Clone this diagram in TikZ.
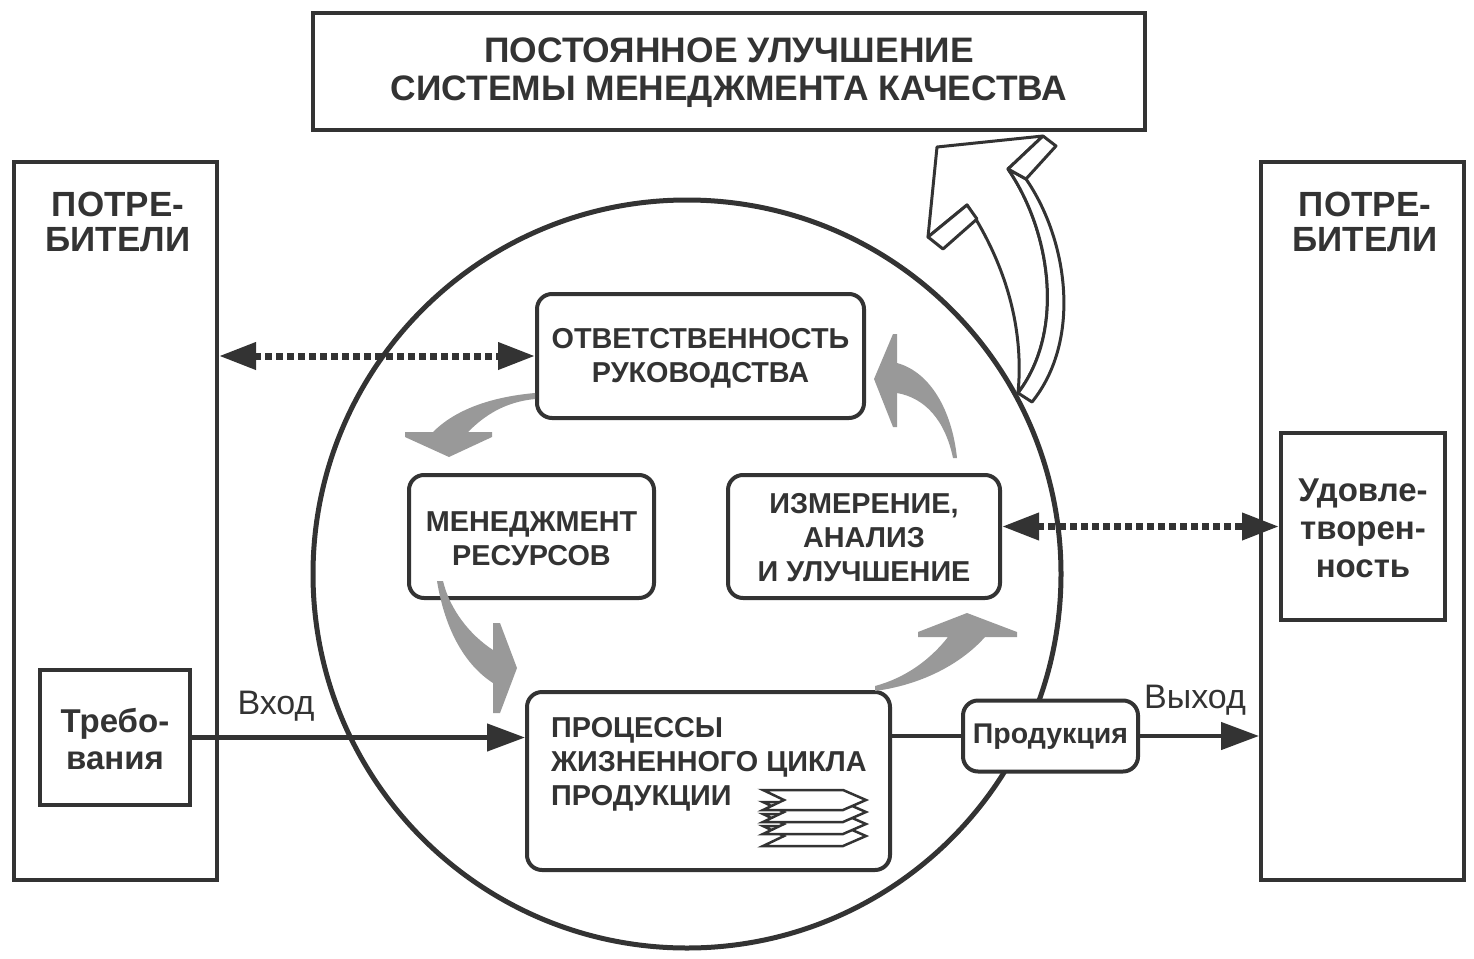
\documentclass[tikz,border=0pt]{standalone}
\usepackage{fontspec}
\setmainfont{Liberation Sans}
\usetikzlibrary{arrows.meta}
\definecolor{ink}{HTML}{333333}
\definecolor{arrowgrey}{HTML}{999999}
\begin{document}
\begin{tikzpicture}[x=1pt,y=-1pt,
  box/.style={draw=ink, line width=4pt, inner sep=0pt, fill=white},
  rbox/.style={box, rounded corners=15pt},
  lbl/.style={text=ink, inner sep=0pt, align=center, font=\bfseries\fontsize{28.8}{34}\selectfont},
  biglbl/.style={lbl, font=\bfseries\fontsize{35}{35}\selectfont},
  plain/.style={text=ink, inner sep=0pt, font=\fontsize{34}{34}\selectfont},
  flow/.style={draw=ink, line width=4.5pt, -{Triangle[length=38pt,width=27pt]}},
  dotarrow/.style={draw=ink, line width=7pt, dash pattern=on 7pt off 4pt,
     {Triangle[length=37pt,width=26pt]}-{Triangle[length=37pt,width=26pt]}},
  greyarrow/.style={fill=arrowgrey},
  outline/.style={draw=ink, line width=3pt, fill=white, line join=round},
  page/.style={draw=ink, line width=2.5pt, fill=white, line join=miter}
]
\useasboundingbox (0,0) rectangle (1474,958);

% big circle
\node[draw=ink, line width=5pt, circle, minimum size=748pt, inner sep=0pt] (circ) at (687,574) {};

% title
\node[box, minimum width=832pt, minimum height=117pt] (titlebox) at (729,71.5) {};
\node[lbl, font=\bfseries\fontsize{35.4}{38}\selectfont] (title) at (729,72.5)
  {ПОСТОЯННОЕ УЛУЧШЕНИЕ\\СИСТЕМЫ МЕНЕДЖМЕНТА КАЧЕСТВА};

% side boxes
\node[box, fill=none, minimum width=203pt, minimum height=718pt] (left) at (115.5,521) {};
\node[box, fill=none, minimum width=203pt, minimum height=718pt] (right) at (1362.5,521) {};
\node[biglbl] (lefttxt) at (118,222) {ПОТРЕ-\\БИТЕЛИ};
\node[biglbl] (righttxt) at (1365,222) {ПОТРЕ-\\БИТЕЛИ};

\node[box, minimum width=150pt, minimum height=135pt] (req) at (115,737.5) {};
\node[lbl, font=\bfseries\fontsize{33}{37}\selectfont] (reqtxt) at (115,739) {Требо-\\вания};

\node[box, minimum width=164pt, minimum height=187pt] (sat) at (1363,526.5) {};
\node[lbl, font=\bfseries\fontsize{33}{38}\selectfont] (sattxt) at (1363,528) {Удовле-\\творен-\\ность};

% inner boxes
\node[rbox, minimum width=327pt, minimum height=124pt] (resp) at (700.5,356) {};
\node[lbl] (resptxt) at (700.5,358) {ОТВЕТСТВЕННОСТЬ\\РУКОВОДСТВА};

\node[rbox, minimum width=245pt, minimum height=123pt] (res) at (531.5,536.5) {};
\node[lbl] (restxt) at (531.5,539) {МЕНЕДЖМЕНТ\\РЕСУРСОВ};

\node[rbox, minimum width=272pt, minimum height=123pt] (meas) at (864,536.5) {};
\node[lbl] (meastxt) at (864,538) {ИЗМЕРЕНИЕ,\\АНАЛИЗ\\И УЛУЧШЕНИЕ};

\node[rbox, minimum width=363pt, minimum height=178pt] (proc) at (708.5,781) {};
\node[lbl, align=left, anchor=north west] (proctxt) at (551,717)
  {ПРОЦЕССЫ\\ЖИЗНЕННОГО ЦИКЛА\\ПРОДУКЦИИ};

\node[rbox, minimum width=175pt, minimum height=71pt] (prod) at (1050.5,736) {};
\node[lbl, font=\bfseries\fontsize{28.5}{30}\selectfont] (prodtxt) at (1050.5,737) {Продукция};

% stacked pages icon
\foreach \yy in {826,814,802,790}{
  \draw[page] (763,\yy) -- (843,\yy) -- (866,\yy+10) -- (843,\yy+20) -- (763,\yy+20) -- (784,\yy+10) -- cycle;
}

% input / output flows
\draw[flow] (req.east) -- (req.east -| proc.west);
\draw[draw=ink, line width=4.5pt] (prod.west -| proc.east) -- (prod.west);
\draw[flow] (prod.east) -- (prod.east -| right.west);
\node[plain] (inlbl) at (276,706) {Вход};
\node[plain] (outlbl) at (1195,700) {Выход};

% dotted two-way arrows
\draw[dotarrow] (resp.west -| left.east) -- (resp.west);
\draw[dotarrow] (sat.west -| meas.east) -- (sat.west);

% grey cycle arrows
\fill[greyarrow] (535,393) .. controls (490,397) and (455,410) .. (433,432) -- (405,432) -- (405,437)
  -- (449,457) -- (492,437) -- (492,432) -- (468,432) .. controls (485,415) and (505,402) .. (535,399) -- cycle;
\fill[greyarrow] (437,581) .. controls (445,630) and (465,665) .. (493,683) -- (493,713) -- (500,713)
  -- (517,668) -- (500,623) -- (493,623) -- (493,650) .. controls (470,635) and (450,610) .. (443,581) -- cycle;
\fill[greyarrow] (875,686) .. controls (905,678) and (930,660) .. (948,637) -- (918,637) -- (918,632)
  -- (967,613) -- (1017,632) -- (1017,637) -- (985,637) .. controls (960,665) and (920,685) .. (875,691) -- cycle;
\fill[greyarrow] (953,458) .. controls (945,420) and (925,398) .. (897,393) -- (897,427) -- (893,427)
  -- (874,379) -- (893,334) -- (897,334) -- (897,363) .. controls (930,372) and (952,410) .. (957,458) -- cycle;

% big outlined improvement arrow
\coordinate (A) at (937,147);
\coordinate (B) at (1043,136);
\coordinate (C) at (1056,146);
\coordinate (D) at (1026,179);
\coordinate (E) at (1008,169);
\coordinate (F) at (967,205);
\coordinate (G) at (977,219);
\coordinate (H) at (943,249);
\coordinate (I) at (928,237);
\coordinate (J) at (1018,393);
\coordinate (K) at (1032,402);
\draw[outline] (A) -- (B) -- (E) .. controls (1050,230) and (1066,330) .. (J)
  .. controls (1025,320) and (1000,255) .. (F) -- (I) -- cycle;
\draw[outline] (E) -- (D) .. controls (1068,240) and (1082,340) .. (K) -- (J)
  .. controls (1066,330) and (1050,230) .. (E) -- cycle;
\draw[outline] (B) -- (C) -- (D) -- (E) -- cycle;
\draw[outline] (I) -- (H) -- (G) -- (F) -- cycle;
\end{tikzpicture}
\end{document}
